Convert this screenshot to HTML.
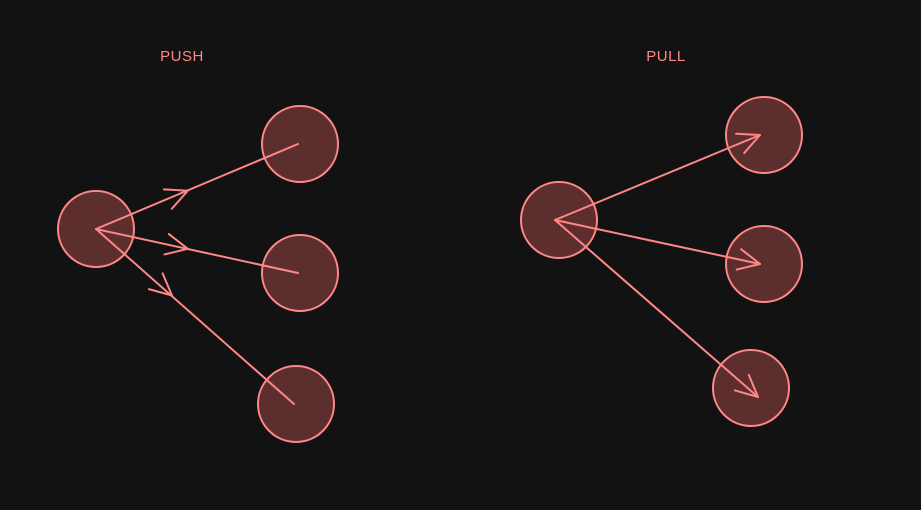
<!DOCTYPE html>
<html>
<head>
<meta charset="utf-8">
<style>
  html,body{margin:0;padding:0;background:#121212;}
  svg{display:block;}
  text{font-family:"Liberation Sans",sans-serif;}
</style>
</head>
<body>
<svg id="diagram" width="921" height="510" viewBox="0 0 921 510">
  <rect width="921" height="510" fill="#121212"/>
  <text x="182" y="61" fill="#ff8787" font-size="15" text-anchor="middle" letter-spacing="0.5">PUSH</text>
  <text x="666" y="61" fill="#ff8787" font-size="15" text-anchor="middle" letter-spacing="0.5">PULL</text>
  <g id="layer"></g>
</svg>
<script>
// Node centres (diagram data)
const pushSource = [96, 229];
const pushTargets = [[300, 144], [300, 273], [296, 404]];
const pullSource = [559, 220];
const pullTargets = [[764, 135], [764, 264], [751, 388]];
const R = 38;
const NS = "http://www.w3.org/2000/svg";
const layer = document.getElementById('layer');
const STROKE = "#ff8787", FILL = "#5c2e2e";

function circle(c, name) {
  const el = document.createElementNS(NS, 'circle');
  el.setAttribute('cx', c[0]); el.setAttribute('cy', c[1]); el.setAttribute('r', R);
  el.setAttribute('fill', FILL); el.setAttribute('stroke', STROKE); el.setAttribute('stroke-width', 2);
  
  
  layer.appendChild(el);
}
function line(a, b, name) {
  const el = document.createElementNS(NS, 'line');
  el.setAttribute('x1', a[0]); el.setAttribute('y1', a[1]);
  el.setAttribute('x2', b[0]); el.setAttribute('y2', b[1]);
  el.setAttribute('stroke', STROKE); el.setAttribute('stroke-width', 2); el.setAttribute('stroke-linecap', 'round');
  
  
  layer.appendChild(el);
}
function head(tip, dir, name) {
  const ang = Math.atan2(dir[1], dir[0]);
  const L = 24, spread = 0.45;
  const p1 = [tip[0] - L * Math.cos(ang - spread), tip[1] - L * Math.sin(ang - spread)];
  const p2 = [tip[0] - L * Math.cos(ang + spread), tip[1] - L * Math.sin(ang + spread)];
  const el = document.createElementNS(NS, 'polyline');
  el.setAttribute('points', p1.join(',') + ' ' + tip.join(',') + ' ' + p2.join(','));
  el.setAttribute('fill', 'none'); el.setAttribute('stroke', STROKE); el.setAttribute('stroke-width', 2);
  el.setAttribute('stroke-linecap', 'round'); el.setAttribute('stroke-linejoin', 'round');
  
  
  layer.appendChild(el);
}

circle(pushSource, 'push-source-node');
pushTargets.forEach((t, i) => circle(t, 'push-target-node-' + (i + 1)));
circle(pullSource, 'pull-source-node');
pullTargets.forEach((t, i) => circle(t, 'pull-target-node-' + (i + 1)));

pushTargets.forEach((t, i) => {
  const s = pushSource;
  const d = [t[0] - s[0], t[1] - s[1]];
  line(s, [t[0] - 2, t[1]], 'push-arrow-' + (i + 1));
  const f = i === 2 ? 0.38 : 0.45;
  head([s[0] + d[0] * f, s[1] + d[1] * f], d, 'push-arrowhead-' + (i + 1));
});
pullTargets.forEach((t, i) => {
  const s = pullSource;
  const tip = i === 2 ? [t[0] + 7, t[1] + 9] : [t[0] - 4, t[1]];
  const d = [tip[0] - s[0], tip[1] - s[1]];
  line([s[0] - 4, s[1]], tip, 'pull-arrow-' + (i + 1));
  head(tip, d, 'pull-arrowhead-' + (i + 1));
});
</script>
</body>
</html>
